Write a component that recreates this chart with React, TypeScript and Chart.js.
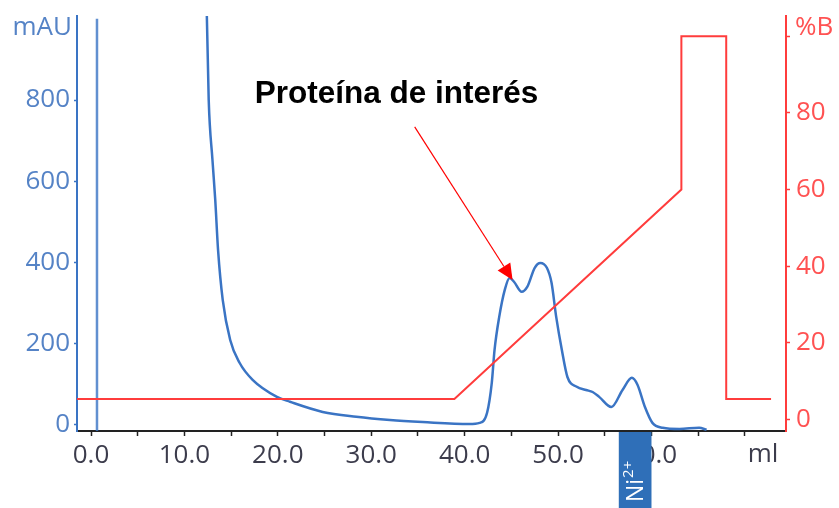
import React, { useEffect, useRef } from 'react';
import { Chart, registerables } from 'chart.js';

Chart.register(...registerables);

// UV absorbance trace (ml, mAU)
const uvVolume = [12.2, 12.4, 12.6, 13.0, 13.3, 13.6, 14.1, 14.9, 15.9, 17.3, 19.9, 21.3, 24.8, 28.4, 32.0, 35.5, 40.5, 41.6, 42.4, 42.9, 43.2, 43.7, 44.3, 44.8, 45.3, 46.1, 46.7, 47.5, 48.1, 48.8, 49.3, 49.8, 50.4, 51.0, 52.0, 53.0, 53.7, 54.4, 55.7, 56.9, 57.9, 58.5, 59.3, 60.1, 61.2, 63.0, 65.1, 65.9];
const uvAbs = [1300, 1007, 800, 653, 554, 431, 308, 209, 153, 111, 69, 57, 32, 20, 12, 7, 2, 5, 30, 103, 185, 266, 333, 362, 352, 328, 340, 387, 399, 387, 350, 266, 185, 118, 94, 86, 81, 69, 44, 86, 116, 99, 44, 5, -7, -10, -7, -12];

// Gradient %B (ml, %B)
const gradVolume = [-1.5, 38.9, 63.2, 63.2, 68.0, 68.0, 72.8];
const gradPercent = [5.3, 5.3, 60, 100, 100, 5.3, 5.3];

// Injection marker
const injVolume = [0.64, 0.64];
const injAbs = [-15, 1000];

// Tick values
const xTickValues = [0, 5, 10, 15, 20, 25, 30, 35, 40, 45, 50, 55, 60, 65, 70];
const yTickValues = [0, 200, 400, 600, 800];
const y2TickValues = [0, 20, 40, 60, 80, 100];

// Annotation (data coordinates)
const annotationText = 'Proteína de interés';
const annotationTextPos = { x: 32.7, y: 813 };
const arrowStart = { x: 34.65, y: 734 };
const arrowTip = { x: 45.13, y: 357 };
const niRange = [56.5, 60.0];

const BLUE = '#3a74c4';
const BLUE_LABEL = '#5583c6';
const RED = '#ff3c3c';
const RED_LABEL = '#ff5252';
const DARK = '#222222';
const DARK_LABEL = '#3c3c4c';
const TICK_FONT = '"Open Sans", "DejaVu Sans", sans-serif';
const TICK_SIZE = 26;

const overlayPlugin = {
  id: 'overlay',
  afterDraw(chart: any) {
    const { ctx, chartArea, scales } = chart;
    const xs = scales.x;
    const ys = scales.y;
    ctx.save();
    // unit labels
    ctx.font = `${TICK_SIZE}px ${TICK_FONT}`;
    ctx.textBaseline = 'middle';
    ctx.fillStyle = BLUE_LABEL;
    ctx.textAlign = 'right';
    ctx.fillText('mAU', chartArea.left - 5, chartArea.top + 12);
    ctx.fillStyle = RED_LABEL;
    ctx.textAlign = 'left';
    ctx.fillText('%B', chartArea.right + 9, chartArea.top + 12);
    ctx.fillStyle = DARK_LABEL;
    ctx.textAlign = 'center';
    ctx.fillText('ml', chartArea.right - 23, chartArea.bottom + 24);

    // Ni2+ box
    const bx0 = xs.getPixelForValue(niRange[0]);
    const bx1 = xs.getPixelForValue(niRange[1]);
    ctx.fillStyle = '#2f6fb8';
    ctx.fillRect(bx0, chartArea.bottom + 1, bx1 - bx0, chart.height - chartArea.bottom);
    ctx.save();
    ctx.translate(bx0 + 24, chart.height - 6);
    ctx.rotate(-Math.PI / 2);
    ctx.fillStyle = '#ffffff';
    ctx.textAlign = 'left';
    ctx.textBaseline = 'alphabetic';
    ctx.font = `23px ${TICK_FONT}`;
    ctx.fillText('Ni', 0, 0);
    const w = ctx.measureText('Ni').width;
    ctx.font = `15px ${TICK_FONT}`;
    ctx.fillText('2+', w + 1, -10);
    ctx.restore();

    // annotation text
    ctx.font = 'bold 31.5px "Liberation Sans", Arial, sans-serif';
    ctx.fillStyle = '#000000';
    ctx.textAlign = 'center';
    ctx.textBaseline = 'middle';
    ctx.fillText(annotationText, xs.getPixelForValue(annotationTextPos.x), ys.getPixelForValue(annotationTextPos.y));

    // arrow
    const sx = xs.getPixelForValue(arrowStart.x);
    const sy = ys.getPixelForValue(arrowStart.y);
    const tx = xs.getPixelForValue(arrowTip.x);
    const ty = ys.getPixelForValue(arrowTip.y);
    const ang = Math.atan2(ty - sy, tx - sx);
    const hl = 16;
    const hw = 7.5;
    const bxp = tx - hl * Math.cos(ang);
    const byp = ty - hl * Math.sin(ang);
    ctx.strokeStyle = '#ff0000';
    ctx.lineWidth = 1.2;
    ctx.beginPath();
    ctx.moveTo(sx, sy);
    ctx.lineTo(bxp, byp);
    ctx.stroke();
    ctx.fillStyle = '#ff0000';
    ctx.beginPath();
    ctx.moveTo(tx, ty);
    ctx.lineTo(bxp + hw * Math.sin(ang), byp - hw * Math.cos(ang));
    ctx.lineTo(bxp - hw * Math.sin(ang), byp + hw * Math.cos(ang));
    ctx.closePath();
    ctx.fill();
    ctx.restore();
  },
};

const fixV = (w: number) => (s: any) => {
  s.width = w;
  s.paddingTop = 0;
  s.paddingBottom = 0;
};

export default function App() {
  const ref = useRef<HTMLCanvasElement | null>(null);
  useEffect(() => {
    if (!ref.current) return;
    const chart = new Chart(ref.current, {
      type: 'line',
      data: {
        datasets: [
          {
            label: '%B',
            data: gradVolume.map((v, i) => ({ x: v, y: gradPercent[i] })),
            yAxisID: 'y2',
            borderColor: RED,
            borderWidth: 2,
            pointRadius: 0,
            tension: 0,
            fill: false,
          },
          {
            label: 'UV',
            data: uvVolume.map((v, i) => ({ x: v, y: uvAbs[i] })),
            yAxisID: 'y',
            borderColor: BLUE,
            borderWidth: 2.5,
            pointRadius: 0,
            cubicInterpolationMode: 'monotone',
            fill: false,
          },
          {
            label: 'Inject',
            data: injVolume.map((v, i) => ({ x: v, y: injAbs[i] })),
            yAxisID: 'y',
            borderColor: 'rgba(58,116,196,0.8)',
            borderWidth: 2.5,
            pointRadius: 0,
            fill: false,
          },
        ],
      },
      options: {
        animation: false,
        responsive: true,
        maintainAspectRatio: false,
        layout: { padding: { top: 16, left: 0, right: 0, bottom: 0 } },
        plugins: { legend: { display: false }, tooltip: { enabled: false }, title: { display: false } },
        scales: {
          x: {
            type: 'linear',
            min: -1.5,
            max: 74.4,
            afterBuildTicks: (s: any) => {
              s.ticks = xTickValues.map((v) => ({ value: v }));
            },
            afterFit: (s: any) => {
              s.height = 77;
              s.paddingLeft = 0;
              s.paddingRight = 0;
            },
            ticks: {
              autoSkip: false,
              maxRotation: 0,
              padding: 4,
              color: DARK_LABEL,
              font: { family: TICK_FONT, size: TICK_SIZE },
              callback: (v: any) => (Number(v) % 10 === 0 && Number(v) < 70 ? Number(v).toFixed(1) : ''),
            },
            grid: { display: true, drawOnChartArea: false, drawTicks: true, tickLength: 5, tickColor: DARK, tickWidth: 1.5 },
            border: { display: true, color: DARK, width: 2 },
          },
          y: {
            type: 'linear',
            position: 'left',
            min: -15,
            max: 1007,
            afterBuildTicks: (s: any) => {
              s.ticks = yTickValues.map((v) => ({ value: v }));
            },
            afterFit: fixV(77),
            ticks: {
              autoSkip: false,
              padding: 4,
              color: BLUE_LABEL,
              font: { family: TICK_FONT, size: TICK_SIZE },
              callback: (v: any) => String(v),
            },
            grid: { display: true, drawOnChartArea: false, drawTicks: true, tickLength: 3, tickColor: BLUE, tickWidth: 1.5 },
            border: { display: true, color: BLUE, width: 2 },
          },
          y2: {
            type: 'linear',
            position: 'right',
            min: -3.05,
            max: 105.3,
            afterBuildTicks: (s: any) => {
              s.ticks = y2TickValues.map((v) => ({ value: v }));
            },
            afterFit: fixV(53),
            ticks: {
              autoSkip: false,
              padding: 6,
              color: RED_LABEL,
              font: { family: TICK_FONT, size: TICK_SIZE },
              callback: (v: any) => (Number(v) === 100 ? '' : String(v)),
            },
            grid: { display: true, drawOnChartArea: false, drawTicks: true, tickLength: 4, tickColor: RED, tickWidth: 1.5 },
            border: { display: true, color: RED, width: 2 },
          },
        },
      },
      plugins: [overlayPlugin],
    } as any);
    return () => chart.destroy();
  }, []);
  return (
    <div style={{ position: 'absolute', left: 0, top: 0, width: 839, height: 508, background: '#fff' }}>
      <canvas ref={ref} />
    </div>
  );
}
